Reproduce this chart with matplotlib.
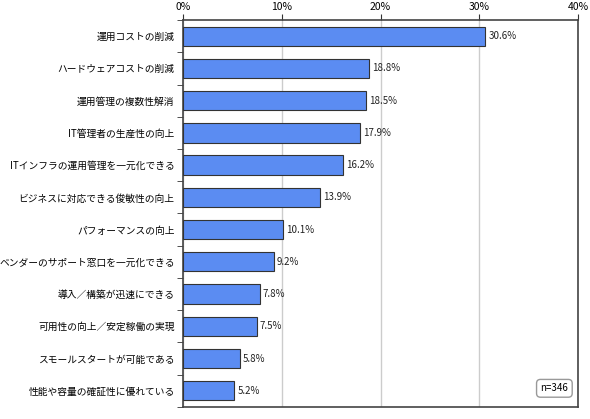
import matplotlib
matplotlib.use("Agg")
import matplotlib.pyplot as plt
import numpy as np

plt.rcParams['font.family'] = ['Noto Sans CJK JP', 'DejaVu Sans']

labels = ["運用コストの削減", "ハードウェアコストの削減", "運用管理の複数性解消",
          "IT管理者の生産性の向上", "ITインフラの運用管理を一元化できる",
          "ビジネスに対応できる俊敏性の向上", "パフォーマンスの向上",
          "ベンダーのサポート窓口を一元化できる", "導入／構築が迅速にできる",
          "可用性の向上／安定稼働の実現", "スモールスタートが可能である",
          "性能や容量の確証性に優れている"]
values = [30.6, 18.8, 18.5, 17.9, 16.2, 13.9, 10.1, 9.2, 7.8, 7.5, 5.8, 5.2]
ticks = [0, 10, 20, 30, 40]

fig = plt.figure(figsize=(5.9, 4.19), dpi=100)
ax = fig.add_axes([0.31, 0.029, 0.67, 0.923])
y = np.arange(len(values))
ax.barh(y, values, height=0.6, color="#5b8cf2", edgecolor="#333333", linewidth=0.8, zorder=3)
for yi, v in zip(y, values):
    ax.text(v + 0.3, yi, f"{v}%", va="center", ha="left", fontsize=7, color="#222222")
ax.set_ylim(len(values) - 0.5, -0.5)
ax.set_xlim(0, 40)
ax.set_yticks(y)
ax.set_yticklabels(labels, fontsize=7)
ax.set_yticks(np.arange(len(values) + 1) - 0.5, minor=True)
ax.tick_params(axis="y", which="major", length=0, pad=6)
ax.tick_params(axis="y", which="minor", length=4, color="#333333")
ax.xaxis.tick_top()
ax.set_xticks(ticks)
ax.set_xticklabels([f"{t}%" for t in ticks], fontsize=7.5)
ax.tick_params(axis="x", length=4, color="#333333", pad=2)
ax.grid(axis="x", color="#cccccc", linewidth=1, zorder=0)
for s in ax.spines.values():
    s.set_color("#444444")
    s.set_linewidth(1.2)
ax.text(0.975, 0.035, "n=346", transform=ax.transAxes, ha="right", va="bottom", fontsize=7,
        bbox=dict(boxstyle="round,pad=0.4", fc="white", ec="#999999", lw=1))
fig.savefig("out.png")
